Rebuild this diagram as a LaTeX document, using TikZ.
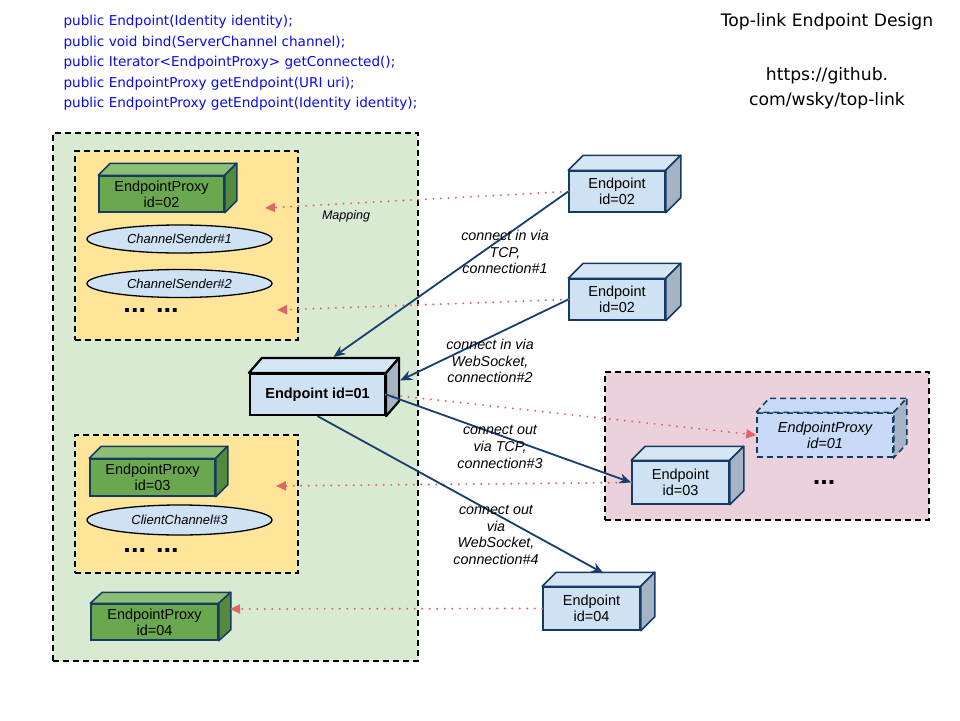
\documentclass[tikz,border=0pt]{standalone}
\usepackage{fontspec}
\setmainfont{Liberation Sans}
\newfontfamily\comic{DejaVu Sans}
\usetikzlibrary{arrows.meta,calc,shapes.geometric}
\definecolor{gbg}{RGB}{217,234,211}
\definecolor{ybg}{RGB}{255,229,153}
\definecolor{pbg}{RGB}{234,209,220}
\definecolor{epblue}{RGB}{207,226,243}
\definecolor{eptop}{RGB}{214,230,245}
\definecolor{epside}{RGB}{165,180,196}
\definecolor{navy}{RGB}{22,58,98}
\definecolor{pxfront}{RGB}{106,168,79}
\definecolor{pxtop}{RGB}{140,190,116}
\definecolor{pxside}{RGB}{84,138,62}
\definecolor{dpfront}{RGB}{201,218,248}
\definecolor{dpside}{RGB}{165,180,200}
\definecolor{conn}{RGB}{22,62,112}
\definecolor{mapred}{RGB}{224,102,102}
\definecolor{codeblue}{RGB}{10,10,235}
\newcommand\cubefaces[6]{%
 \filldraw[#6, fill=#4] (#1.north west) -- ++(#2,-#3) -- ([shift={(#2,-#3)}]#1.north east) -- (#1.north east) -- cycle;
 \filldraw[#6, fill=#5] (#1.north east) -- ([shift={(#2,-#3)}]#1.north east) -- ([shift={(#2,-#3)}]#1.south east) -- (#1.south east) -- cycle;
}
\begin{document}
\begin{tikzpicture}[x=1pt,y=-1pt,
  boxfont/.style={font=\fontsize{14.5}{16}\selectfont},
  epbox/.style={draw=navy, line width=1.5pt, fill=epblue, inner sep=0pt, align=center, boxfont},
  pxbox/.style={draw=navy, line width=1.5pt, fill=pxfront, inner sep=0pt, align=center, boxfont},
  facesep/.style={draw=navy, line width=1.5pt, line join=round},
  facebold/.style={draw=black, line width=2.2pt, line join=round},
  facedash/.style={draw=navy, line width=1.5pt, dash pattern=on 6pt off 4pt},
  group/.style={draw=black, line width=1.8pt, dash pattern=on 6pt off 4pt, inner sep=0pt},
  chan/.style={ellipse, draw=black, line width=1.3pt, fill=epblue, inner sep=0pt, font=\itshape\fontsize{13}{15}\selectfont},
  lbl/.style={font=\itshape\fontsize{14.3}{16.7}\selectfont, align=center},
  code/.style={anchor=west, text=codeblue, font=\comic\fontsize{13.6}{15}\selectfont},
  conarrow/.style={draw=conn, line width=1.8pt, -{Stealth[length=12pt,width=10pt]}},
  maparrow/.style={draw=mapred, line width=2.2pt, line cap=round, dash pattern=on 0pt off 7.5pt, -{Triangle[length=10pt,width=9pt,line cap=butt]}},
  dotsfont/.style={font=\bfseries\fontsize{27}{27}\selectfont}
]
\useasboundingbox (0,0) rectangle (960,720);
\fill[white] (0,0) rectangle (960,720);

% code text
\node[code] (c1) at (60,22) {public Endpoint(Identity identity);};
\node[code] (c2) at (60,43) {public void bind(ServerChannel channel);};
\node[code] (c3) at (60,63) {public Iterator<EndpointProxy> getConnected();};
\node[code] (c4) at (60,84) {public EndpointProxy getEndpoint(URI uri);};
\node[code] (c5) at (60,104) {public EndpointProxy getEndpoint(Identity identity);};

% title
\node[font=\comic\fontsize{17.2}{25}\selectfont] (t1) at (827,22) {Top-link Endpoint Design};
\node[font=\comic\fontsize{17.2}{25}\selectfont, align=center] (t2) at (827,88) {https://github.\\com/wsky/top-link};

% group boxes
\node[group, fill=gbg, minimum width=365pt, minimum height=528pt] (gbox) at (235.5,397) {};
\node[group, fill=ybg, minimum width=223pt, minimum height=189pt] (ybox1) at (186.5,245.5) {};
\node[group, fill=ybg, minimum width=223pt, minimum height=138pt] (ybox2) at (186.5,504) {};
\node[group, fill=pbg, minimum width=324pt, minimum height=148pt] (pbox) at (767,446) {};

% proxies
\node[pxbox, minimum width=125pt, minimum height=36pt] (p02) at (161.5,194) {EndpointProxy\\id=02};
\cubefaces{p02}{12}{12}{pxtop}{pxside}{facesep}
\node[chan, minimum width=185pt, minimum height=28pt] (cs1) at (179.5,239) {ChannelSender\#1};
\node[chan, minimum width=185pt, minimum height=28pt] (cs2) at (179.5,283.5) {ChannelSender\#2};
\node[dotsfont] (d1) at (151,310) {... ...};

\node[pxbox, minimum width=125pt, minimum height=37pt] (p03) at (152.5,477.5) {EndpointProxy\\id=03};
\cubefaces{p03}{12}{12}{pxtop}{pxside}{facesep}
\node[chan, minimum width=185pt, minimum height=30pt] (cc3) at (179.5,520) {ClientChannel\#3};
\node[dotsfont] (d2) at (151,550) {... ...};

\node[pxbox, minimum width=127pt, minimum height=36pt] (p04) at (154.5,622) {EndpointProxy\\id=04};
\cubefaces{p04}{12}{11}{pxtop}{pxside}{facesep}

% endpoints
\node[epbox, draw=black, line width=2.2pt, minimum width=135pt, minimum height=41pt, font=\bfseries\fontsize{14.5}{16}\selectfont] (e01) at (317.5,394.5) {Endpoint id=01};
\cubefaces{e01}{13}{15}{eptop}{epside}{facebold}

\node[epbox, minimum width=96pt, minimum height=41pt] (e02a) at (617,191.5) {Endpoint\\id=02};
\cubefaces{e02a}{15}{15}{eptop}{epside}{facesep}
\node[epbox, minimum width=96pt, minimum height=41pt] (e02b) at (617,299.5) {Endpoint\\id=02};
\cubefaces{e02b}{15}{15}{eptop}{epside}{facesep}
\node[epbox, minimum width=97pt, minimum height=43pt] (e03) at (680.5,482.5) {Endpoint\\id=03};
\cubefaces{e03}{14}{14}{eptop}{epside}{facesep}
\node[epbox, minimum width=97pt, minimum height=43pt] (e04) at (591.5,608.5) {Endpoint\\id=04};
\cubefaces{e04}{14}{14}{eptop}{epside}{facesep}

\node[epbox, fill=dpfront, dash pattern=on 6pt off 4pt, minimum width=136pt, minimum height=44pt, font=\itshape\fontsize{14.5}{16}\selectfont] (p01) at (825,435) {EndpointProxy\\id=01};
\cubefaces{p01}{13}{14}{dpfront}{dpside}{facedash}
\node[dotsfont] (d3) at (824,482) {...};

% mapping free ends
\coordinate (m1) at (265,208);
\coordinate (m2) at (277,310);
\coordinate (m3) at (276,486);
\coordinate (m4) at (230,609);

% mapping arrows
\draw[maparrow] (e02a.west) -- (m1);
\draw[maparrow] (e02b.west) -- (m2);
\draw[maparrow] (e01.east) -- (p01.west);
\draw[maparrow] (e03.west) -- (m3);
\draw[maparrow] (e04.west) -- (m4);
\node[font=\itshape\fontsize{12.5}{14}\selectfont] (map) at (346,216) {Mapping};

% connections
\draw[conarrow] (e02a.west) -- ([shift={(16,-16)}]e01.north);
\draw[conarrow] (e02b.west) -- ([shift={(14,-14)}]e01.east);
\draw[conarrow] (e01.east) -- (e03.west);
\draw[conarrow] (e01.south) -- ([shift={(12,-13)}]e04.north);

\node[lbl] (l1) at (505,252) {connect in via\\TCP,\\connection\#1};
\node[lbl] (l2) at (490,361) {connect in via\\WebSocket,\\connection\#2};
\node[lbl] (l3) at (500,447) {connect out\\via TCP,\\connection\#3};
\node[lbl] (l4) at (496,535) {connect out\\via\\WebSocket,\\connection\#4};
\end{tikzpicture}
\end{document}
